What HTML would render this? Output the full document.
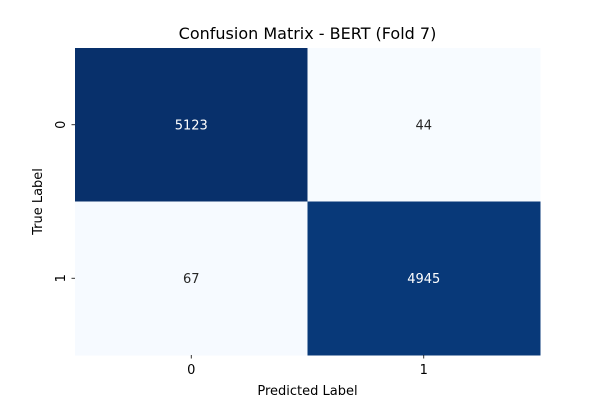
<!DOCTYPE html>
<html><head><meta charset="utf-8"><style>
body{margin:0;background:#fff;font-family:"Liberation Sans","DejaVu Sans",sans-serif}
svg text{font-family:"DejaVu Sans","Liberation Sans",sans-serif}
</style></head><body>
<svg id="c" width="600" height="400"></svg>
<script>
const rowLabels=["0","1"];
const colLabels=["0","1"];
const row0=[5123,44];
const row1=[67,4945];
const matrix=[row0,row1];
const svg=document.getElementById('c');
const NS='http://www.w3.org/2000/svg';
const L=75,R=540,T=48,B=355;
const cw=(R-L)/colLabels.length, ch=(B-T)/rowLabels.length;
const all=matrix.flat();const vmin=Math.min(...all),vmax=Math.max(...all);
const stops=[[247,251,255],[222,235,247],[198,219,239],[158,202,225],[107,174,214],[66,146,198],[33,113,181],[8,81,156],[8,48,107]];
function cmap(v){let t=(v-vmin)/(vmax-vmin);t=Math.max(0,Math.min(1,t));const p=t*(stops.length-1);const i=Math.min(Math.floor(p),stops.length-2);const f=p-i;
return 'rgb('+stops[i].map((a,k)=>Math.round(a+(stops[i+1][k]-a)*f)).join(',')+')';}
function el(tag,attrs,txt){const e=document.createElementNS(NS,tag);for(const k in attrs)e.setAttribute(k,attrs[k]);if(txt!==undefined)e.textContent=txt;svg.appendChild(e);return e;}
matrix.forEach((row,r)=>row.forEach((v,c)=>{
 const x=L+c*cw,y=T+r*ch;
 const rc=el('rect',{x:x,y:y,width:cw+0.5,height:ch+0.5,fill:cmap(v)});
 
 
 const t=el('text',{x:x+cw/2,y:y+ch/2+4.5,'text-anchor':'middle','font-size':'13',fill:(v-vmin)/(vmax-vmin)>0.5?'#fff':'#262626'},String(v));
 
 
}));
colLabels.forEach((l,c)=>{const x=L+c*cw+cw/2;
 el('line',{x1:x,x2:x,y1:B,y2:B+3.5,stroke:'#000','stroke-width':0.8});
 const t=el('text',{x:x,y:B+19,'text-anchor':'middle','font-size':'13',fill:'#000'},l);
 
 });
rowLabels.forEach((l,r)=>{const y=T+r*ch+ch/2;
 el('line',{x1:L-3.5,x2:L,y1:y,y2:y,stroke:'#000','stroke-width':0.8});
 const t=el('text',{x:0,y:0,'text-anchor':'middle','font-size':'13',fill:'#000',transform:'translate('+(L-10)+','+y+') rotate(-90)'},l);
 
 });
let t=el('text',{x:(L+R)/2,y:39,'text-anchor':'middle','font-size':'16',fill:'#000'},'Confusion Matrix - BERT (Fold 7)');


t=el('text',{x:(L+R)/2,y:395,'text-anchor':'middle','font-size':'13',fill:'#000'},'Predicted Label');


t=el('text',{x:0,y:0,'text-anchor':'middle','font-size':'13',fill:'#000',transform:'translate(42,'+(T+B)/2+') rotate(-90)'},'True Label');


</script>
</body></html>
